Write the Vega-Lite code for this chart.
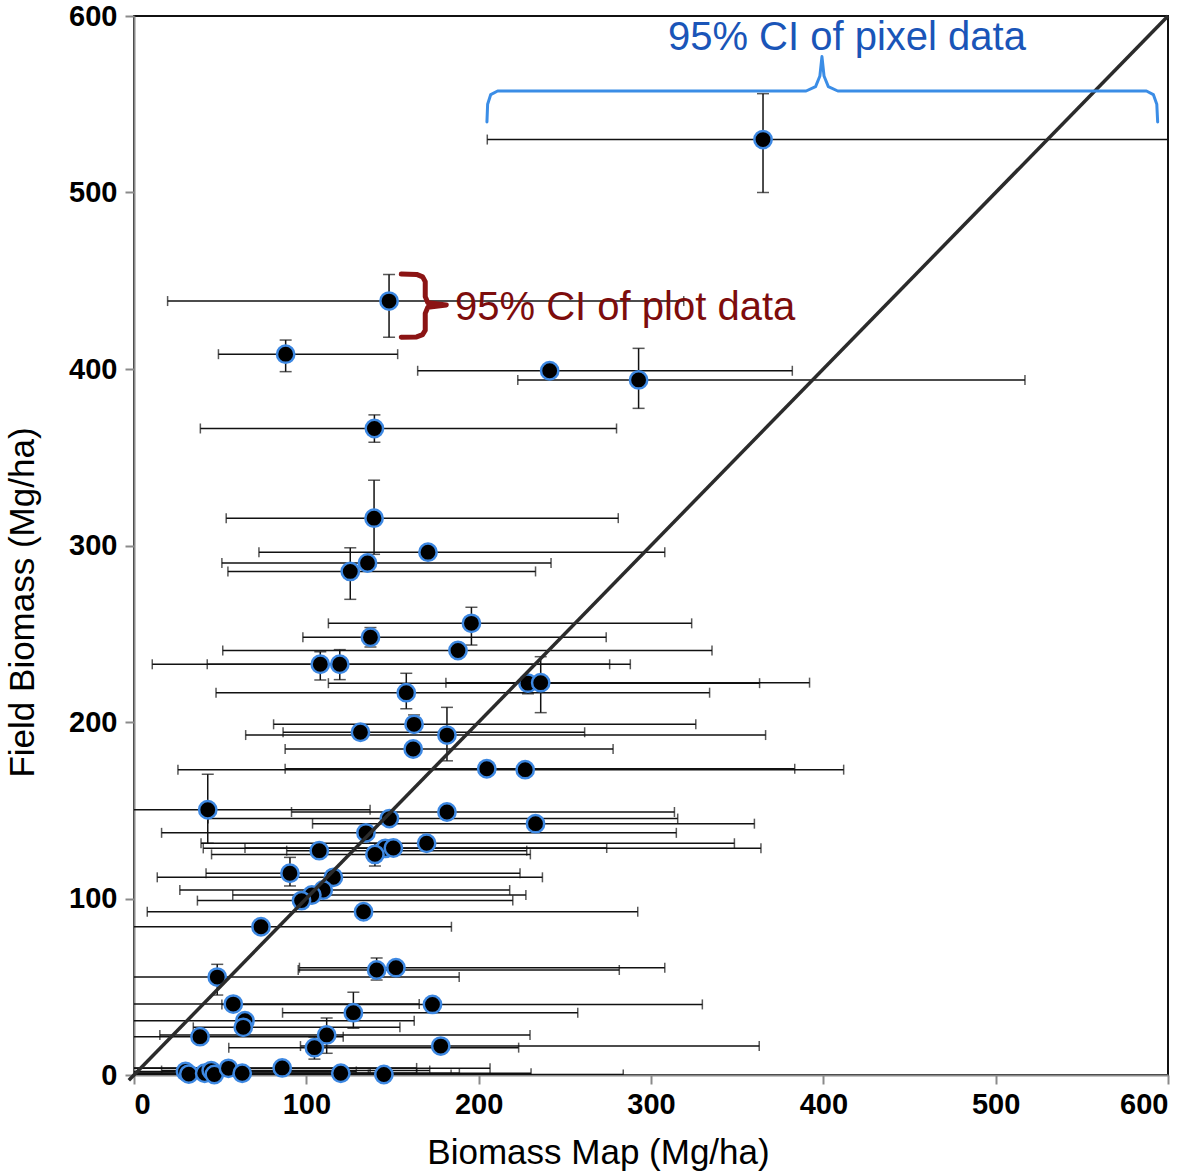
{
  "$schema": "https://vega.github.io/schema/vega-lite/v6.json",
  "width": 1034,
  "height": 1059,
  "autosize": {"type": "none"},
  "padding": {"left": 134, "top": 16, "right": 32, "bottom": 98},
  "background": "white",
  "config": {
    "view": {"stroke": "#111111", "strokeWidth": 2},
    "axis": {
      "grid": false,
      "domainColor": "#8a8a8a",
      "domainWidth": 2,
      "tickColor": "#8a8a8a",
      "tickWidth": 2,
      "tickSize": 9,
      "tickCount": 6,
      "labelFont": "Liberation Sans",
      "labelFontWeight": "bold",
      "labelFontSize": 29,
      "labelColor": "black",
      "titleFont": "Liberation Sans",
      "titleFontWeight": "normal",
      "titleFontSize": 35,
      "titleColor": "black"
    },
    "axisX": {"labelPadding": 6, "titlePadding": 16, "titleX": 464},
    "axisY": {"labelPadding": 8, "titlePadding": 28, "titleY": 586}
  },
  "datasets": {
    "pts": [
      {"x": 365, "y": 530, "xlo": 205, "xhi": 610, "ylo": 500, "yhi": 556},
      {"x": 148, "y": 438.5, "xlo": 19.5, "xhi": 319, "ylo": 418, "yhi": 453.5},
      {"x": 88, "y": 408.4, "xlo": 49, "xhi": 153, "ylo": 398.5, "yhi": 416.4},
      {"x": 241.2, "y": 399, "xlo": 164.6, "xhi": 382, "ylo": 396.5, "yhi": 401.5},
      {"x": 292.8, "y": 393.8, "xlo": 222.7, "xhi": 517, "ylo": 377.7, "yhi": 411.7},
      {"x": 139.5, "y": 366.3, "xlo": 38.5, "xhi": 280, "ylo": 358.5, "yhi": 374},
      {"x": 139.3, "y": 315.5, "xlo": 53.5, "xhi": 281, "ylo": 295, "yhi": 337},
      {"x": 170.6, "y": 296.2, "xlo": 72.5, "xhi": 308, "ylo": 293, "yhi": 299.5},
      {"x": 135.5, "y": 290.1, "xlo": 51, "xhi": 242, "ylo": null, "yhi": null},
      {"x": 125.5, "y": 285.3, "xlo": 54.5, "xhi": 233, "ylo": 269.5, "yhi": 298.7},
      {"x": 195.8, "y": 255.9, "xlo": 112.8, "xhi": 323.6, "ylo": 243.6, "yhi": 265},
      {"x": 137.2, "y": 248, "xlo": 98, "xhi": 274, "ylo": 242.5, "yhi": 253.5},
      {"x": 188, "y": 240.5, "xlo": 51.5, "xhi": 335.4, "ylo": 238, "yhi": 244.5},
      {"x": 108.1, "y": 232.7, "xlo": 10.6, "xhi": 276, "ylo": 223.8, "yhi": 239.8},
      {"x": 119.4, "y": 232.7, "xlo": 42.5, "xhi": 288, "ylo": 224, "yhi": 241},
      {"x": 158, "y": 216.6, "xlo": 47.6, "xhi": 334, "ylo": 207.5, "yhi": 227.6},
      {"x": 228.6, "y": 222, "xlo": 112.8, "xhi": 363, "ylo": 216, "yhi": 224.5},
      {"x": 236, "y": 222.3, "xlo": 181, "xhi": 392, "ylo": 205.3, "yhi": 237},
      {"x": 162.5, "y": 198.7, "xlo": 81, "xhi": 326, "ylo": 196, "yhi": 204},
      {"x": 131.4, "y": 194.2, "xlo": 86.5, "xhi": 261.5, "ylo": null, "yhi": null},
      {"x": 181.6, "y": 192.6, "xlo": 64.8, "xhi": 366.5, "ylo": 178, "yhi": 208.3},
      {"x": 162, "y": 184.7, "xlo": 87.7, "xhi": 278, "ylo": null, "yhi": null},
      {"x": 204.7, "y": 173.5, "xlo": 87.7, "xhi": 383.4, "ylo": 171, "yhi": 175.5},
      {"x": 227, "y": 173, "xlo": 25.5, "xhi": 411.8, "ylo": null, "yhi": null},
      {"x": 42.8, "y": 150.3, "xlo": -10, "xhi": 137, "ylo": 131.3, "yhi": 170.4},
      {"x": 181.6, "y": 149, "xlo": 91.4, "xhi": 313.6, "ylo": null, "yhi": null},
      {"x": 148.2, "y": 145.3, "xlo": 43, "xhi": 315.5, "ylo": null, "yhi": null},
      {"x": 233, "y": 142.4, "xlo": 103.6, "xhi": 360, "ylo": null, "yhi": null},
      {"x": 134.6, "y": 137.2, "xlo": 16, "xhi": 314.7, "ylo": null, "yhi": null},
      {"x": 169.8, "y": 131.3, "xlo": 38.9, "xhi": 348.4, "ylo": null, "yhi": null},
      {"x": 107.5, "y": 127.1, "xlo": 88.6, "xhi": 227.9, "ylo": null, "yhi": null},
      {"x": 145.8, "y": 128.4, "xlo": 40.2, "xhi": 363.8, "ylo": null, "yhi": null},
      {"x": 150.5, "y": 128.6, "xlo": 64.4, "xhi": 274.3, "ylo": null, "yhi": null},
      {"x": 139.8, "y": 125, "xlo": 45, "xhi": 230, "ylo": 118.4, "yhi": 131.4},
      {"x": 90.5, "y": 114.3, "xlo": 41.8, "xhi": 224, "ylo": 107.1, "yhi": 123.3},
      {"x": 115.7, "y": 112, "xlo": 13.5, "xhi": 237, "ylo": 109.5, "yhi": 114.8},
      {"x": 109.8, "y": 104.8, "xlo": 26.6, "xhi": 218, "ylo": null, "yhi": null},
      {"x": 103.2, "y": 102, "xlo": 57.3, "xhi": 227.4, "ylo": null, "yhi": null},
      {"x": 97.2, "y": 98.8, "xlo": 36.8, "xhi": 219.8, "ylo": null, "yhi": null},
      {"x": 133.2, "y": 92.5, "xlo": 7.7, "xhi": 292.3, "ylo": null, "yhi": null},
      {"x": 73.7, "y": 84, "xlo": -10, "xhi": 184.2, "ylo": null, "yhi": null},
      {"x": 48.3, "y": 55.5, "xlo": -10, "xhi": 188.7, "ylo": 45.3, "yhi": 62.7},
      {"x": 140.8, "y": 59.5, "xlo": 95.3, "xhi": 281.6, "ylo": 53.8, "yhi": 66.3},
      {"x": 152, "y": 60.8, "xlo": 96, "xhi": 308, "ylo": null, "yhi": null},
      {"x": 57.6, "y": 40.2, "xlo": -10, "xhi": 165.5, "ylo": null, "yhi": null},
      {"x": 173.2, "y": 40, "xlo": 51, "xhi": 329.8, "ylo": null, "yhi": null},
      {"x": 127.3, "y": 35.3, "xlo": 86.2, "xhi": 257.5, "ylo": 26.5, "yhi": 46.9},
      {"x": 64.4, "y": 30.8, "xlo": -10, "xhi": 162.6, "ylo": null, "yhi": null},
      {"x": 63.4, "y": 27, "xlo": 34.4, "xhi": 154.3, "ylo": null, "yhi": null},
      {"x": 111.8, "y": 22.7, "xlo": 15, "xhi": 229.8, "ylo": 12.3, "yhi": 32.3},
      {"x": 38.3, "y": 21.7, "xlo": -10, "xhi": 121.4, "ylo": null, "yhi": null},
      {"x": 104.7, "y": 15.5, "xlo": 55, "xhi": 223.2, "ylo": 9, "yhi": 21.5},
      {"x": 178, "y": 16.4, "xlo": 96.6, "xhi": 362.8, "ylo": null, "yhi": null},
      {"x": 29.9, "y": 2, "xlo": -10, "xhi": 129, "ylo": null, "yhi": null},
      {"x": 31.8, "y": 0.5, "xlo": -10, "xhi": 137, "ylo": null, "yhi": null},
      {"x": 41, "y": 1, "xlo": -10, "xhi": 164, "ylo": null, "yhi": null},
      {"x": 44.8, "y": 2.5, "xlo": 16, "xhi": 171.6, "ylo": null, "yhi": null},
      {"x": 46.6, "y": 0.3, "xlo": -10, "xhi": 184, "ylo": null, "yhi": null},
      {"x": 54.8, "y": 3.8, "xlo": -10, "xhi": 206.6, "ylo": null, "yhi": null},
      {"x": 62.8, "y": 1, "xlo": -10, "xhi": 188.8, "ylo": null, "yhi": null},
      {"x": 86, "y": 4, "xlo": -10, "xhi": 164, "ylo": null, "yhi": null},
      {"x": 120, "y": 1, "xlo": -10, "xhi": 230.4, "ylo": null, "yhi": null},
      {"x": 145, "y": 0.3, "xlo": 136, "xhi": 283.9, "ylo": null, "yhi": null}
    ],
    "diag": [
      {"dx": -3, "dy": -3},
      {"dx": 600, "dy": 600}
    ],
    "braces": [
      {"brace": "pixel", "i": 0, "bx": 204.8, "by": 540},
      {"brace": "pixel", "i": 1, "bx": 205.2, "by": 550},
      {"brace": "pixel", "i": 2, "bx": 207, "by": 555.5},
      {"brace": "pixel", "i": 3, "bx": 211, "by": 557.5},
      {"brace": "pixel", "i": 4, "bx": 390, "by": 557.5},
      {"brace": "pixel", "i": 5, "bx": 395.5, "by": 560},
      {"brace": "pixel", "i": 6, "bx": 398, "by": 566},
      {"brace": "pixel", "i": 7, "bx": 399.2, "by": 577},
      {"brace": "pixel", "i": 8, "bx": 400.4, "by": 566},
      {"brace": "pixel", "i": 9, "bx": 402.9, "by": 560},
      {"brace": "pixel", "i": 10, "bx": 408.4, "by": 557.5},
      {"brace": "pixel", "i": 11, "bx": 587.5, "by": 557.5},
      {"brace": "pixel", "i": 12, "bx": 591.5, "by": 555.5},
      {"brace": "pixel", "i": 13, "bx": 593.5, "by": 550},
      {"brace": "pixel", "i": 14, "bx": 594, "by": 540},
      {"brace": "plot", "i": 0, "bx": 155.1, "by": 453.8},
      {"brace": "plot", "i": 1, "bx": 164, "by": 453.6},
      {"brace": "plot", "i": 2, "bx": 167.5, "by": 452.2},
      {"brace": "plot", "i": 3, "bx": 169, "by": 449.5},
      {"brace": "plot", "i": 4, "bx": 169, "by": 441},
      {"brace": "plot", "i": 5, "bx": 170.5, "by": 437.6},
      {"brace": "plot", "i": 6, "bx": 181.2, "by": 436.3},
      {"brace": "plot", "i": 7, "bx": 170.5, "by": 435},
      {"brace": "plot", "i": 8, "bx": 169, "by": 431.5},
      {"brace": "plot", "i": 9, "bx": 169, "by": 422},
      {"brace": "plot", "i": 10, "bx": 167.5, "by": 419.5},
      {"brace": "plot", "i": 11, "bx": 164, "by": 418.2},
      {"brace": "plot", "i": 12, "bx": 155.1, "by": 418}
    ],
    "notes": [
      {"kind": "pixel", "label": "95% CI of pixel data", "tx": 413.7, "ty": 587.5},
      {"kind": "plot", "label": "95% CI of plot data", "tx": 186.3, "ty": 434.6}
    ]
  },
  "layer": [
    {
      "data": {"name": "pts"},
      "mark": {"type": "rule", "color": "#111111", "strokeWidth": 1.5, "clip": true},
      "encoding": {
        "x": {"field": "xlo", "type": "quantitative", "scale": {"domain": [0, 600], "nice": false, "zero": false}, "title": "Biomass Map (Mg/ha)"},
        "x2": {"field": "xhi"},
        "y": {"field": "y", "type": "quantitative", "scale": {"domain": [0, 600], "nice": false, "zero": false}, "title": "Field Biomass (Mg/ha)"}
      }
    },
    {
      "data": {"name": "pts"},
      "mark": {"type": "tick", "orient": "vertical", "color": "#111111", "size": 10, "thickness": 1.5, "clip": true},
      "encoding": {
        "x": {"field": "xlo", "type": "quantitative", "scale": {"domain": [0, 600], "nice": false, "zero": false}, "title": "Biomass Map (Mg/ha)"},
        "y": {"field": "y", "type": "quantitative", "scale": {"domain": [0, 600], "nice": false, "zero": false}, "title": "Field Biomass (Mg/ha)"}
      }
    },
    {
      "data": {"name": "pts"},
      "mark": {"type": "tick", "orient": "vertical", "color": "#111111", "size": 10, "thickness": 1.5, "clip": true},
      "encoding": {
        "x": {"field": "xhi", "type": "quantitative", "scale": {"domain": [0, 600], "nice": false, "zero": false}, "title": "Biomass Map (Mg/ha)"},
        "y": {"field": "y", "type": "quantitative", "scale": {"domain": [0, 600], "nice": false, "zero": false}, "title": "Field Biomass (Mg/ha)"}
      }
    },
    {
      "data": {"name": "pts"},
      "transform": [{"filter": "isValid(datum.ylo)"}],
      "mark": {"type": "rule", "color": "#111111", "strokeWidth": 1.5, "clip": true},
      "encoding": {
        "x": {"field": "x", "type": "quantitative", "scale": {"domain": [0, 600], "nice": false, "zero": false}, "title": "Biomass Map (Mg/ha)"},
        "y": {"field": "ylo", "type": "quantitative", "scale": {"domain": [0, 600], "nice": false, "zero": false}, "title": "Field Biomass (Mg/ha)"},
        "y2": {"field": "yhi"}
      }
    },
    {
      "data": {"name": "pts"},
      "transform": [{"filter": "isValid(datum.ylo)"}],
      "mark": {"type": "tick", "orient": "horizontal", "color": "#111111", "size": 12, "thickness": 1.5, "clip": true},
      "encoding": {
        "x": {"field": "x", "type": "quantitative", "scale": {"domain": [0, 600], "nice": false, "zero": false}, "title": "Biomass Map (Mg/ha)"},
        "y": {"field": "ylo", "type": "quantitative", "scale": {"domain": [0, 600], "nice": false, "zero": false}, "title": "Field Biomass (Mg/ha)"}
      }
    },
    {
      "data": {"name": "pts"},
      "transform": [{"filter": "isValid(datum.yhi)"}],
      "mark": {"type": "tick", "orient": "horizontal", "color": "#111111", "size": 12, "thickness": 1.5, "clip": true},
      "encoding": {
        "x": {"field": "x", "type": "quantitative", "scale": {"domain": [0, 600], "nice": false, "zero": false}, "title": "Biomass Map (Mg/ha)"},
        "y": {"field": "yhi", "type": "quantitative", "scale": {"domain": [0, 600], "nice": false, "zero": false}, "title": "Field Biomass (Mg/ha)"}
      }
    },
    {
      "data": {"name": "pts"},
      "mark": {"type": "point", "shape": "circle", "filled": true, "fill": "black", "stroke": "#3d88e2", "strokeWidth": 2.5, "size": 300, "opacity": 1},
      "encoding": {
        "x": {"field": "x", "type": "quantitative", "scale": {"domain": [0, 600], "nice": false, "zero": false}, "title": "Biomass Map (Mg/ha)"},
        "y": {"field": "y", "type": "quantitative", "scale": {"domain": [0, 600], "nice": false, "zero": false}, "title": "Field Biomass (Mg/ha)"}
      }
    },
    {
      "data": {"name": "diag"},
      "mark": {"type": "line", "color": "#2b2b2b", "strokeWidth": 3.5},
      "encoding": {
        "x": {"field": "dx", "type": "quantitative", "scale": {"domain": [0, 600], "nice": false, "zero": false}, "title": "Biomass Map (Mg/ha)"},
        "y": {"field": "dy", "type": "quantitative", "scale": {"domain": [0, 600], "nice": false, "zero": false}, "title": "Field Biomass (Mg/ha)"}
      }
    },
    {
      "data": {"name": "braces"},
      "transform": [{"filter": "datum.brace === 'pixel'"}],
      "mark": {"type": "line", "color": "#3b8de6", "strokeWidth": 3, "strokeJoin": "round", "strokeCap": "round"},
      "encoding": {
        "x": {"field": "bx", "type": "quantitative", "scale": {"domain": [0, 600], "nice": false, "zero": false}, "title": "Biomass Map (Mg/ha)"},
        "y": {"field": "by", "type": "quantitative", "scale": {"domain": [0, 600], "nice": false, "zero": false}, "title": "Field Biomass (Mg/ha)"},
        "order": {"field": "i", "type": "quantitative"}
      }
    },
    {
      "data": {"name": "braces"},
      "transform": [{"filter": "datum.brace === 'plot'"}],
      "mark": {"type": "line", "color": "#8b1414", "strokeWidth": 5, "strokeJoin": "round", "strokeCap": "round"},
      "encoding": {
        "x": {"field": "bx", "type": "quantitative", "scale": {"domain": [0, 600], "nice": false, "zero": false}, "title": "Biomass Map (Mg/ha)"},
        "y": {"field": "by", "type": "quantitative", "scale": {"domain": [0, 600], "nice": false, "zero": false}, "title": "Field Biomass (Mg/ha)"},
        "order": {"field": "i", "type": "quantitative"}
      }
    },
    {
      "data": {"name": "notes"},
      "transform": [{"filter": "datum.kind === 'pixel'"}],
      "mark": {"type": "text", "font": "Liberation Sans", "fontSize": 40, "color": "#1a55b8", "align": "center", "baseline": "middle"},
      "encoding": {
        "x": {"field": "tx", "type": "quantitative", "scale": {"domain": [0, 600], "nice": false, "zero": false}, "title": "Biomass Map (Mg/ha)"},
        "y": {"field": "ty", "type": "quantitative", "scale": {"domain": [0, 600], "nice": false, "zero": false}, "title": "Field Biomass (Mg/ha)"},
        "text": {"field": "label"}
      }
    },
    {
      "data": {"name": "notes"},
      "transform": [{"filter": "datum.kind === 'plot'"}],
      "mark": {"type": "text", "font": "Liberation Sans", "fontSize": 40, "color": "#7d0c0c", "align": "left", "baseline": "middle"},
      "encoding": {
        "x": {"field": "tx", "type": "quantitative", "scale": {"domain": [0, 600], "nice": false, "zero": false}, "title": "Biomass Map (Mg/ha)"},
        "y": {"field": "ty", "type": "quantitative", "scale": {"domain": [0, 600], "nice": false, "zero": false}, "title": "Field Biomass (Mg/ha)"},
        "text": {"field": "label"}
      }
    }
  ]
}
